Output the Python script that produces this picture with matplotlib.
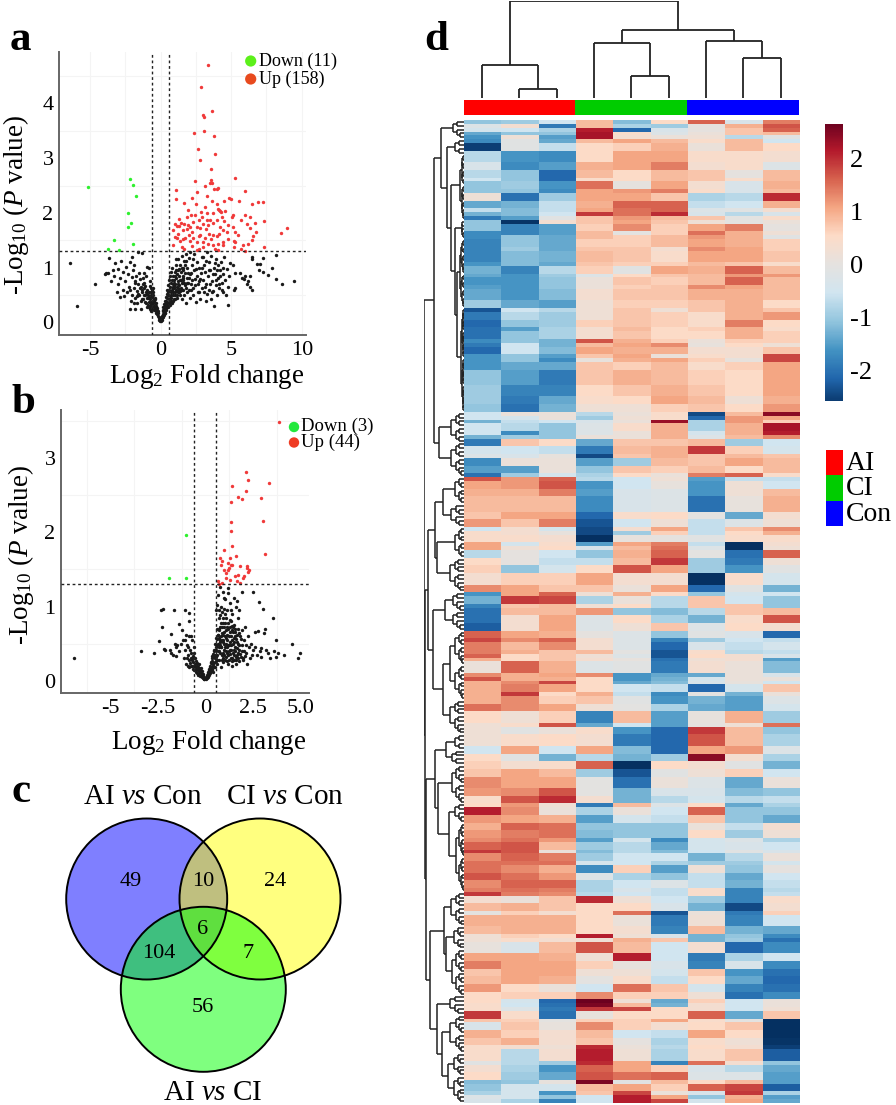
import numpy as np
import matplotlib
matplotlib.use("Agg")
import matplotlib.pyplot as plt
from matplotlib.collections import LineCollection
from matplotlib.colors import LinearSegmentedColormap
from matplotlib.patches import Circle, Rectangle

plt.rcParams.update({
    "font.family": ["Liberation Serif", "DejaVu Serif"],
    "mathtext.fontset": "custom",
    "mathtext.rm": "Liberation Serif",
    "mathtext.it": "Liberation Serif:italic",
    "mathtext.bf": "Liberation Serif:bold",
    "mathtext.default": "rm",
    "axes.unicode_minus": False,
})

# ---------- panel a ----------
a_up = [(3.38,4.71),(2.88,4.30),(3.62,3.87),(3.00,3.78),(3.07,3.76),(3.10,3.49),(2.34,3.46),(3.81,3.41),(2.65,3.17),(3.85,3.07),
(2.81,2.97),(3.55,2.81),(5.30,2.64),(2.41,2.59),(3.59,2.60),(3.50,2.55),(3.64,2.54),(3.17,2.50),(4.09,2.45),(3.81,2.44),
(3.97,2.43),(1.09,2.41),(5.96,2.40),(2.60,2.38),(3.31,2.31),(2.20,2.28),(1.09,2.25),(3.62,2.22),(4.87,2.28),(4.96,2.26),
(4.52,2.22),(5.56,2.22),(6.93,2.20),(6.50,2.17),(7.23,2.20),(2.48,2.16),(1.68,2.18),(4.00,2.16),(4.04,2.08),(4.21,2.04),
(4.14,2.05),(4.30,2.02),(4.56,2.04),(1.96,2.05),(2.86,2.02),(3.26,1.99),(2.46,1.96),(5.15,1.96),(5.04,1.93),(5.98,1.96),
(6.34,1.92),(5.67,1.88),(7.33,1.85),(1.32,1.89),(1.84,1.93),(2.13,1.96),(2.91,1.93),(3.50,1.87),(3.97,1.87),(4.49,1.86),
(1.02,1.80),(1.32,1.76),(1.68,1.80),(1.96,1.78),(2.08,1.74),(2.55,1.74),(3.03,1.80),(3.38,1.78),(3.74,1.81),(4.44,1.69),
(5.15,1.75),(6.10,1.80),(6.69,1.81),(8.98,1.73),(8.51,1.64),(0.90,1.68),(1.13,1.76),(2.79,1.72),(4.21,1.75),(4.68,1.66),
(5.27,1.66),(6.34,1.72),(6.76,1.66),(6.57,1.58),(1.02,1.56),(1.13,1.54),(1.56,1.53),(1.73,1.55),(1.37,1.49),(2.03,1.59),
(2.32,1.55),(2.79,1.60),(3.45,1.61),(3.74,1.60),(4.44,1.47),(5.22,1.49),(6.45,1.50),(5.25,1.46),(5.86,1.41),(6.22,1.44),
(7.33,1.38),(0.90,1.42),(1.49,1.37),(1.65,1.35),(2.20,1.39),(2.55,1.46),(2.98,1.47),(3.38,1.44),(3.69,1.41),(4.09,1.43),
(4.40,1.41),(5.22,1.37),(5.67,1.35),(5.98,1.31),(2.55,1.32),(3.03,1.38),(4.09,1.32),(3.85,1.35),(1.20,1.62),(1.85,1.70),
(2.25,1.66),(2.70,1.58),(3.20,1.70),(3.60,1.52),(4.00,1.58),(4.80,1.52),(5.50,1.60),(2.10,1.48),(2.75,1.35),(3.15,1.54),
(3.30,1.88),(2.70,1.88),(4.15,1.62),(4.75,1.78),(1.55,1.68),(1.45,1.82),(2.30,1.84),(3.12,2.10),(3.72,2.00),(4.35,1.92)]
a_down = [(-5.13,2.47),(-2.15,2.62),(-1.94,2.51),(-1.77,2.31),(-2.32,2.00),(-2.08,1.81),(-2.34,1.75),(-3.29,1.50),(-1.99,1.44),(-3.71,1.34),(-2.93,1.33)]
a_ns = [(-6.45,1.08),(-5.93,.30),(-4.66,.70),(-3.95,.89),(-3.85,.90),(-3.71,.91),(-3.64,1.18),(9.48,.75),(8.6,.71),(8.2,1.23),(7.92,1.0),(8.18,.8),(7.64,.86),(7.28,.93),(7.23,1.18),(6.5,1.2),(6.45,1.15),(6.85,1.07),(7.02,1.07),(7.0,.95),
(-.05,.03),(-.1,.05),(-.12,.1),(-.15,.08),(-.2,.12),(-.2,.18),(-.25,.15),(-.25,.22),(-.3,.2),(-.3,.28),(-.35,.18),(-.35,.3),(-.4,.25),(-.4,.35),(-.45,.3),(-.45,.4),(-.5,.28),(-.5,.42),(-.55,.35),(-.55,.5),
(-.6,.3),(-.6,.46),(-.65,.38),(-.65,.55),(-.7,.33),(-.7,.5),(-.75,.42),(-.8,.55),(-.85,.37),(-.9,.5),(-.95,.6),(-1,.45),(-1.05,.55),(-1.1,.38),(-1.15,.62),(-1.2,.5),(-1.25,.7),(-1.3,.43),(-1.3,.6),(-1.35,.55),
(-1.4,.65),(-1.45,.8),(-1.5,.5),(-1.55,.9),(-1.6,.7),(-1.65,.35),(-1.7,.58),(-1.75,.85),(-1.8,.45),(-1.85,.75),(-1.9,.62),(-1.95,.95),(-2,.5),(-2.05,.83),(-2.1,.4),(-2.2,1.1),(-2.25,.65),(-2.3,.88),(-2.4,.55),(-2.45,1.02),
(-2.5,.75),(-2.6,.48),(-2.65,.93),(-2.7,.6),(-2.8,1.13),(-2.85,.82),(-2.9,.47),(-3,.98),(-3.05,.7),(-3.1,.55),(-3.2,1.08),(-3.3,.85),(-3.35,.95),(-3.5,.75),(-1.8,.25),(-2.2,.25),(-1.4,.25),(-1.0,.28),(-1.3,1.27),(-1.6,1.28),
(-2,1.2),(-1.9,1.05),(-.95,1.01),(-.85,.99),(-1.2,.9),(-1.05,.85),(-.75,.75),(-.55,.62),(-.78,.3),(-.88,.45),(-.92,.32),(-1.02,.36),(-1.12,.5),(-1.22,.42),(-.65,.2),(-.72,.25),(-.82,.28),(-.48,.22),(-.58,.25),(-.38,.42),
(.05,.03),(.08,.08),(.1,.12),(.12,.05),(.15,.15),(.18,.1),(.2,.2),(.22,.14),(.25,.25),(.28,.18),(.3,.3),(.32,.22),(.35,.35),(.38,.26),(.4,.4),(.42,.3),(.45,.45),(.48,.35),(.5,.5),(.52,.28),
(.55,.55),(.58,.38),(.6,.6),(.62,.42),(.65,.65),(.68,.32),(.7,.5),(.72,.72),(.75,.45),(.78,.6),(.8,.78),(.82,.35),(.85,.55),(.88,.7),(.9,.85),(.92,.42),(.95,.62),(.98,.78),(1,.92),(1.02,.5),
(1.05,.7),(1.08,.58),(1.1,1.05),(1.12,.82),(1.15,.65),(1.18,.45),(1.2,.75),(1.22,.95),(1.25,1.15),(1.28,.55),(1.3,.85),(1.32,.68),(1.35,1.05),(1.38,.78),(1.4,.5),(1.42,.62),(1.45,.92),(1.48,1.22),(1.5,.72),(1.52,.42),
(1.55,.85),(1.58,1.0),(1.6,.6),(1.62,.78),(1.65,1.12),(1.68,.5),(1.7,.9),(1.75,.68),(1.78,.35),(1.8,1.25),(1.85,.82),(1.88,1.0),(1.9,.55),(1.95,.72),(2,1.18),(2.05,.45),(2.1,.88),(2.15,.6),(2.2,1.05),(2.25,.78),
(2.3,.5),(2.35,.95),(2.4,1.25),(2.45,.68),(2.5,.38),(2.55,.85),(2.6,1.1),(2.65,.55),(2.7,.75),(2.75,1.0),(2.8,.42),(2.85,.9),(2.9,1.2),(2.95,.62),(3,.78),(3.05,.55),(3.1,1.05),(3.15,.92),(3.2,.4),(3.25,.7),
(3.3,1.28),(3.35,.85),(3.4,1.1),(3.45,.6),(3.5,.95),(3.55,.42),(3.6,1.22),(3.65,.75),(3.7,.58),(3.75,1.0),(3.8,.3),(3.85,.88),(3.9,1.15),(3.95,.68),(4,.5),(4.05,1.05),(4.1,.82),(4.15,.62),(4.2,.95),(4.3,1.1),
(4.35,.72),(4.4,.55),(4.45,.88),(4.5,1.2),(4.55,.78),(4.6,.5),(4.7,.98),(4.75,.65),(4.8,.32),(4.85,.85),(4.9,1.08),(5.3,.62),(5.2,.6),(5.25,.9),(5.6,.9),(5.8,.82),(5.9,.8),(6,.85),(6.1,.7),(6.2,.75),
(6.3,.65),(6.5,.6),(6.35,.85),(5.1,1.05),(.3,.18),(.35,.22),(.45,.28),(.55,.3),(.6,.35),(.7,.38),(.75,.4),(.85,.4),(.9,.5),(1,.55),(1.05,.42),(1.1,.6),(1.15,.5),(1.2,.55),(1.25,.7),(1.3,.6),(.95,.72),(.85,.65),(.75,.55),(.65,.48),
(-.18,.2),(-.28,.26),(-.33,.36),(-.42,.44),(-.52,.56),(-.62,.6),(-.7,.62),(-.78,.66),(-.82,.47),(-.98,.52),(-1.08,.66),(-1.18,.72),(-1.28,.82),(-1.38,.4),(-1.48,.62),(-1.58,.52),(-1.68,.48),(-1.78,.72),(-1.88,.35),(-2.15,.6),
(.15,.22),(.2,.28),(.25,.34),(.3,.4),(.35,.46),(.42,.52),(.48,.6),(.55,.68),(.62,.78),(.68,.85),(.75,.92),(.82,1.0),(.9,.62),(.98,.66),(1.02,.85),(1.08,.95),(1.12,1.15),(1.18,.88),(1.22,.62),(1.28,.98),
(1.35,.58),(1.42,.78),(1.48,1.0),(1.52,.6),(1.58,.82),(1.62,.95),(1.68,.72),(1.72,1.05),(1.78,.62),(1.82,1.12),(1.88,.72),(1.92,.9),(1.98,.6),(2.02,.82),(2.08,1.28),(2.12,.7),(2.18,.9),(2.28,.62),(2.32,1.15),(2.42,.8),
(2.52,.98),(2.62,.7),(2.72,.55),(2.82,.8),(2.92,1.0),(3.02,1.2),(3.12,.65),(3.22,1.12),(3.32,.52),(3.42,.95),(3.52,.7),(3.62,.55),(3.72,.88),(3.82,1.08),(3.92,.78),(4.02,.95),(4.12,.7),(4.22,.85),(4.32,.6),(4.42,1.0)]

# ---------- panel b ----------
b_up = [(3.89,3.49),(2.11,2.82),(2.26,2.71),(3.35,2.67),(1.39,2.63),(2.16,2.56),(1.72,2.48),(1.95,2.45),(2.95,2.46),(1.37,2.41),(3.04,2.16),(1.32,2.14),(1.37,2.02),(1.39,1.81),(1.0,1.76),(3.16,1.71),(1.61,1.68),(.79,1.65),(.88,1.62),(1.3,1.65),
(1.19,1.59),(.82,1.56),(1.32,1.56),(1.4,1.56),(1.84,1.55),(2.18,1.55),(2.21,1.52),(2.3,1.49),(2.25,1.46),(.96,1.49),(1.19,1.49),(1.09,1.45),(1.54,1.41),(1.72,1.43),(2.02,1.41),(1.96,1.39),(1.28,1.36),(1.09,1.38),(.67,1.34),(.88,1.32),
(1.68,1.34),(1.81,1.32),(.72,1.31),(1.25,1.52)]
b_down = [(-1.0,1.96),(-1.91,1.38),(-1.0,1.38)]
b_ns = [(-6.9,.3),(-3.39,.4),(-2.72,.38),(-2.42,.54),(-2.26,.73),(-2.32,.95),(-2.21,.97),(-1.63,.95),(-1.1,.95),(-.84,.91),(-1.79,.63),(-1.37,.76),(-.84,.81),(-2.2,.43),(-2.15,.42),(-1.85,.42),(-1.8,.38),(-1.7,.35),(-1.55,.33),(-1.5,.48),
(-1.4,.4),(-1.3,.5),(-1.2,.55),(-1.15,.3),(-1.05,.42),(-1.0,.62),(-.95,.48),(-.9,.35),(-.85,.6),(-.8,.42),(-.75,.3),(-.72,.55),(-.7,.2),(-.65,.25),(-.62,.38),(-.6,.15),(-.58,.3),(-.55,.22),(-.52,.12),(-.5,.18),
(-.48,.26),(-.45,.1),(-.42,.2),(-.4,.14),(-.38,.08),(-.35,.17),(-.32,.11),(-.3,.07),(-.28,.13),(-.25,.06),(-.22,.1),(-.2,.05),(-.18,.08),(-.15,.04),(-.12,.06),(-.1,.03),(-.07,.02),(-.05,.02),(-.68,.33),(-.92,.2),
(-.78,.2),(-.88,.28),(-1.05,.55),(-1.25,.68),(-1.6,.5),(-1.55,.45),(-.6,.45),(-.75,.6),
(.03,.02),(.05,.04),(.07,.03),(.1,.08),(.12,.05),(.15,.12),(.18,.08),(.2,.16),(.22,.1),(.25,.2),(.28,.13),(.3,.25),(.32,.16),(.35,.3),(.38,.2),(.4,.36),(.42,.12),(.45,.42),(.48,.25),(.5,.5),
(.52,.18),(.55,.32),(.58,.58),(.6,.7),(.62,.22),(.65,.4),(.68,.62),(.7,.85),(.72,.28),(.75,.48),(.78,.72),(.8,1.0),(.82,.18),(.85,.35),(.88,.55),(.9,.78),(.92,1.2),(.95,.25),(.98,.42),(1.0,.66),
(1.02,.9),(1.05,1.1),(1.08,.32),(1.1,.5),(1.12,.72),(1.15,.95),(1.18,1.25),(1.2,.22),(1.22,.4),(1.25,.6),(1.28,.82),(1.3,1.05),(1.32,.3),(1.35,.48),(1.38,.68),(1.4,.9),(1.42,.2),(1.45,.38),(1.48,.58),(1.5,.75),
(1.52,.28),(1.55,.45),(1.58,.65),(1.6,1.0),(1.62,.22),(1.65,.35),(1.68,.52),(1.7,.7),(1.72,.85),(1.75,.26),(1.78,.42),(1.8,.6),(1.85,.32),(1.9,.48),(1.95,.68),(2.0,.28),(2.02,.4),(2.05,.55),(2.1,.72),(2.15,.38),
(2.2,.22),(2.25,.6),(2.3,.45),(2.35,.3),(2.4,.5),(2.45,.35),(2.49,1.2),(2.5,.42),(2.6,.66),(2.63,.45),(2.7,.35),(2.75,.67),(2.82,1.06),(2.85,.4),(2.9,.32),(2.95,.44),(3.04,.97),(3.09,.64),(3.12,.7),(3.2,.42),
(3.42,.3),(3.3,.38),(3.54,.85),(3.6,.4),(3.72,.32),(3.72,.55),(3.8,.38),(4.12,.34),(4.56,.49),(4.86,.3),(4.96,.38),(.55,.95),(.6,1.02),(.65,1.15),(.7,.95),(.75,1.27),(.72,.7),(.78,.88),(.8,.6),(.85,.72),
(.9,.62),(.95,.85),(1.0,.5),(1.0,1.12),(1.05,.78),(1.1,.58),(1.15,.38),(1.2,.7),(1.25,.48),(1.3,.65),(1.35,.8),(1.4,.55),(1.45,.72),(1.5,.42),(1.55,.6),(1.6,.32),(1.2,1.18),(1.35,.95),(1.5,1.12),(1.65,1.08),
(1.75,.95),(1.9,1.2),(.35,.15),(.4,.22),(.45,.18),(.5,.3),(.55,.42),(.6,.28),(.65,.5),(.7,.4),(.75,.55),(.8,.45),(.85,.28),(.9,.38),(.95,.55),(1.0,.35),(1.05,.6),(1.1,.4),(1.15,.55),(1.2,.35),(1.3,.42),(1.4,.3),
(-.08,.05),(-.14,.09),(-.2,.13),(-.24,.17),(-.3,.14),(-.34,.22),(-.38,.18),(-.44,.24),(-.48,.16),(-.54,.3),(-.58,.2),(-.64,.32),(-.68,.16),(-.72,.28),(-.76,.38),(-.82,.24),(-.86,.18),(-.9,.45),(-.96,.3),(-1.02,.22),
(.08,.06),(.13,.1),(.17,.14),(.21,.12),(.24,.18),(.27,.24),(.31,.18),(.34,.27),(.37,.33),(.41,.24),(.44,.32),(.47,.4),(.51,.34),(.54,.46),(.57,.26),(.59,.48),(.61,.56),(.63,.34),(.66,.62),(.69,.46),
(.71,.58),(.74,.68),(.77,.38),(.79,.52),(.81,.78),(.84,.46),(.87,.64),(.89,.92),(.91,.3),(.93,.52),(.96,.72),(.99,.96),(1.01,.28),(1.03,.46),(1.06,.68),(1.09,.84),(1.11,.26),(1.13,.46),(1.16,.62),(1.19,.78),
(1.21,.48),(1.24,.28),(1.27,.72),(1.29,.52),(1.31,.36),(1.34,.6),(1.37,.42),(1.39,.74),(1.41,.26),(1.44,.5),(1.47,.66),(1.49,.34),(1.51,.52),(1.54,.7),(1.57,.4),(1.59,.56),(1.61,.28),(1.64,.44),(1.66,.62),(1.69,.38),
(1.71,.5),(1.74,.3),(1.76,.64),(1.79,.48),(1.82,.36),(1.87,.56),(1.92,.4),(1.97,.3),(2.07,.33),(2.12,.48)]

# ---------- panel c ----------
venn_sets = ["AI vs Con", "CI vs Con", "AI vs CI"]
venn_only_ai_con, venn_only_ci_con, venn_only_ai_ci = 49, 24, 56
venn_ai_ci_con, venn_ai_and_aici, venn_ci_and_aici, venn_all = 10, 104, 7, 6

# ---------- panel d ----------
heat_groups = ["AI", "CI", "Con"]
heat_blocks = [
(1,-1.0,-.9,-.5,.8,-1.1,.5,1.5,-.3,1.3),(1,-.2,.3,-1.8,.8,-.8,-.9,0,.9,1.6),(1,-.4,-.5,-.8,2.0,-2.0,-.3,0,.7,1.5),(1,-1.3,-1.0,-1.0,2.1,.4,-.2,.1,.7,.8),
(1,-1.5,.2,-1.4,2.1,.3,.1,.2,-.7,-.1),(1,-1.6,-.1,-1.3,.8,1.0,.8,.4,.8,-.5),(2,-2.4,-.1,-.6,.5,.6,.9,.1,.8,.5),(3,-.7,-1.5,-1.6,.5,1.0,1.0,.4,.4,.3),
(2,-.3,-1.6,-1.4,.9,1.0,1.3,.3,.4,-.2),(2,-.7,-1.0,-2.0,.8,.5,.8,.7,0,.8),(1,-.5,-1.0,-2.0,.4,.5,.8,.7,.4,.8),(2,-1.0,-.9,-1.5,1.4,0,1.0,.3,-.3,.9),
(1,-1.0,-1.0,-1.6,1.0,1.1,1.3,.4,-.3,.8),(2,.2,-1.9,-.9,1.0,1.0,.7,-.8,-.7,1.9),(2,-1.3,-1.2,-.6,.9,1.5,1.5,-.6,-.5,.9),(1,-.6,-1.1,-.6,1,1.4,1.5,-.2,-.1,.3),
(1,-1.2,-1.1,-.5,1.8,1.4,1.9,-.3,-.7,-.3),(1,-1.8,-1.4,-.1,.7,1.1,.8,.7,-.05,.4),(1,-1,-2.5,.3,.7,1.0,.7,.2,-.05,.1),(2,-1,-1.7,-1.4,.6,1.2,.6,1.0,1.3,0),
(1,-1.6,-1.7,-1.4,.8,-.05,.6,1.4,.9,.2),(1,-1.6,-1,-1.3,.8,.6,.8,1.1,.9,-.1),(2,-1.7,-1,-1.3,.6,.6,.8,1,.9,.6),(1,-1.7,-.9,-1.3,.7,.7,.3,1.2,1,.6),
(3,-1.7,-1.1,-1.2,.8,.7,.4,1.0,1.0,.7),(1,-1.5,-1.1,-1.3,.7,.6,.6,.8,.7,.4),(2,-1.2,-1.7,-.7,.6,-.1,1.0,.9,1.5,.8),(1,-1.3,-1.5,-.9,-.2,.5,.7,.8,1.1,1.1),
(2,-1.5,-1.5,-1,.1,.7,.6,.8,1.5,.8),(1,-1.4,-1.5,-1,.1,.6,.7,1.2,1,.8),(3,-1.3,-1.5,-1.1,.3,.7,.7,.9,.9,.8),
(2,-.9,-1.3,-1.4,.2,.6,.6,.7,.9,.5),(1,-2.2,-.5,-.7,.2,.7,.2,.7,.9,.7),(2,-1.8,-.7,-.9,.2,.7,.6,.4,.9,1.1),(2,-2,-1,-.9,.6,.7,.6,.4,1.3,.5),
(1,-1.9,-1.4,-.8,.3,.8,.5,.6,.9,.4),(2,-1.9,-1,-.8,.3,.7,.5,.5,.9,.6),(1,-1.6,-1,-1.2,1.6,.9,.6,.1,.6,.6),(1,-1.8,-.5,-1.2,.8,1,1.2,.05,.5,.2),
(2,-2,-.5,-1.1,1,.9,.9,.3,.3,.7),(1,-1.5,-1,-1.4,.7,1,.1,.4,.3,1.7),(1,-1.5,-1,-1.6,.05,.9,1,.6,.05,1.7),(2,-1.5,-1.3,-1.3,.7,.6,.8,.4,.6,1),
(4,-1,-1.4,-1.8,.7,.9,.8,.6,.5,1),(3,-.9,-1.7,-1.7,.5,.7,.9,.7,.5,1),(2,-.9,-1.8,-1.3,.4,.5,1,.8,.2,.9),(2,-1,-1.9,-1.2,.2,.2,.6,.7,.5,1.1),
(1,-.5,.1,.1,-.7,.1,.4,-2.3,.8,2.3),(1,-.5,-.4,.1,-.9,.2,.4,-2,1.1,1),(1,-1.2,-.6,-.5,-.3,.1,2.2,-.8,1.1,.6),(2,-.5,-.7,-1,-.2,.4,.9,-.8,.9,2.1),
(1,-.5,-1.6,-1,-.2,.1,.9,-.4,.9,2.0),(1,-1.2,-.9,-1,.1,.1,.9,-.2,.8,1.2),(2,-1.8,.7,.5,-1.3,.7,.7,.8,-.9,-.5),(2,-.4,-.5,-.6,-1.8,.8,.9,1.8,.6,-.4),
(1,-.2,-.3,.05,-2.3,.7,.9,.7,.8,.7),(2,-1.6,.1,.1,-1.4,-.9,.8,.7,1.0,.8),(2,-1.4,-1.4,.1,-1,.7,.6,.8,.5,.8),(1,-1.9,-.9,-.4,-.8,.5,.1,1.3,1.5,.4),
(1,1.6,1.1,1.5,-.7,-.5,.2,-1.4,-.6,-.6),(2,1,1.1,1.6,-1.5,-.5,.05,-1.5,.2,-.5),(2,.9,.9,1.3,-1.4,-.3,-.2,-1.5,.2,.8),(4,.8,.8,.8,-1.6,-.3,-.2,-1.9,.05,.9),
(2,.7,1,1,-2,.4,.5,-.05,-1.3,.3),(2,1.1,.7,1.3,-2.2,-.5,.2,-.6,-.2,.2),(1,-.5,.3,-.4,-2.3,.3,1,-.6,.7,1.2),(1,.4,.3,.05,-2.3,-.9,.6,-.6,.5,.9),
(2,.4,.4,.3,-2.9,.05,0,-.1,.4,.4),(1,1,-.4,.4,-1.4,1,1.3,-.6,-2.6,.3),(1,1,.2,.5,-.3,.8,1.4,-.2,-2.6,.2),(2,-.7,0,-.5,-1.0,.9,1.5,-.05,-1.9,1.5),
(2,.5,0,-.6,-.6,.8,1.8,-.9,-1.8,.2),(2,.6,-1,-.4,.5,1.6,1,-.9,-1.5,-.1),(3,.3,.6,.6,1,.3,.3,-2.6,.4,-.4),(2,1.2,1,.7,.7,.1,1,-2,-.1,-1.2),
(1,-1.5,1,1.5,.2,.9,.5,-1,-.4,-.5),(2,-1.2,1.8,1.7,-.8,.1,-.7,.7,-.5,-1),(1,-1.7,.7,.8,.2,.5,-.7,.7,.7,-1),(2,-1.9,.8,.8,1.1,-1,-1.1,-.7,.7,.8),
(2,-1.9,.3,1,-.2,.5,-.8,-1.2,.4,1.6),(2,-2.1,.3,1,-.2,.2,.7,-.2,.5,.3),(2,1.5,1,.9,0,-.2,-1,-.1,-.3,-2),(1,1.7,1.2,1.5,.3,-.2,-1.7,-.9,-.5,-.6),
(2,1.3,.8,1.2,.3,-.2,-2,-.3,-.6,-.4),(1,1.3,.9,.7,.8,-.05,-2.2,.4,-.7,-.6),(1,1.5,.5,.7,.2,-.2,-2.2,.5,.3,-.3),(1,.9,.5,.7,.3,.05,-1.9,.2,.3,-1.4),
(3,.1,1.5,.9,-.2,-.1,-1.8,.3,.1,-1.1),(1,1.2,.9,1,1.2,-1.5,-1.3,-1.3,.1,-.3),(1,1.6,.9,.9,.5,-1.5,-1.2,-.4,.1,.1),(1,.9,1.2,1.7,.5,-1.3,-1.1,-.3,.05,-.5),
(2,.9,1.3,1,.5,-.5,-.6,-2,-.4,.7),(1,.9,1.8,.5,.9,-.6,-1.6,-.05,-1.2,.1),(2,.9,1.2,.6,.7,-.1,-1.5,-1.2,-1.4,-.2),(2,1.4,1.2,1,.2,-.05,-.8,-1.3,-1.4,-.4),
(3,.5,.2,.6,-1.7,.8,-1.4,.05,.9,-.9),(1,.2,.4,1.6,-1.3,-.5,-1.4,0,.2,1.4),(2,.2,-.1,.1,.4,-1.5,-2.0,1.8,.8,-1),(3,.2,.4,.5,.3,-1.8,-2,1.6,.8,-.8),
(2,-.5,1,-.5,1,-1.1,-2,1,1.1,-.2),(2,.5,-.1,-1.2,-.7,-1.2,-.9,2.3,.3,-.8),(2,.6,.3,.4,1.5,-2.8,.5,.3,-.1,-1.2),(2,.7,1,.8,-.9,-2.2,-.1,.2,.6,-.5),
(3,1.2,1,1,-.05,-1.9,.1,-.2,-1.3,.1),(2,1.1,1.2,1.6,-.05,-1.2,-.3,-.3,-1.1,-1),(2,.4,1.6,1.9,.3,-1.2,-.7,-.4,-.7,-.6),(1,.5,1.1,.2,-1.8,.8,-.2,.5,-1.3,-.8),
(2,2,1.2,.1,-.8,.1,-.5,1.5,-1,-1),(2,1.1,1,.9,-1.4,-.4,-.6,.7,-1,-1.3),(2,.9,1.5,1.4,-1,-1,-1,.1,-.6,.3),
(2,1.1,1.3,1.4,-1.1,-1,-1,.5,-.9,.2),(1,1.2,1.4,1.1,-1.4,-.4,-1.6,-.4,-.2,-.8),(2,1.5,1.6,.8,-.9,-.7,-1.3,-.4,-.3,-.5),(1,1.8,1.6,.1,-1.1,-.7,-1.1,-.5,-.1,-.3),
(2,1.2,1.5,1.3,-.9,-.5,-.5,-1.2,-.7,.1),(1,1.4,1.4,1.4,-.4,-.5,-.8,-.9,-.9,-.4),(2,1.4,1.2,.9,-1.6,.6,-1.4,.2,-1,0),(2,1.6,1.4,1.1,-.2,-.8,-1,-.6,-1.3,-.5),
(2,1.2,1.5,1.5,-.8,-.5,-.2,-.6,-1.2,-.6),(1,1.3,1.4,1.3,-.8,-.3,-.6,.4,-1.7,-.7),(1,1.8,1.3,1.2,-.7,-.5,-.6,.4,-1.7,-.6),(2,.3,.1,.7,1.9,.2,-.5,-.9,-1.7,.4),
(2,.8,.9,.7,.5,.5,-.3,-1.2,-2.3,.3),(1,-.05,.6,.3,.5,1.4,-2.2,.1,-1.8,.6),(3,.9,.9,.9,.5,.1,-1.8,.2,-1.7,-.5),(2,.8,.9,.9,.5,.3,-1.7,.8,-1.2,-1.3),
(1,.2,.6,.5,2,.2,-.3,-1.2,-1,-1.6),(1,.2,.4,.3,.2,.9,.7,-1.2,-.9,-1.9),(3,.05,-.3,.8,1.6,.8,-.5,.3,-2,-1.6),(2,1,1,.9,.2,2,-.5,-1.8,-.8,-.5),
(2,1.3,1,1,.6,.05,-.3,-1.7,-.3,-1.6),(2,.7,1,1,.2,.2,-.4,.7,-1.5,-1.9),(2,.8,1,.9,-.05,.4,-.6,.5,-1.3,-2),(2,1.1,.5,.1,-.5,1.4,.7,-.4,-1.7,-1.9),
(2,.5,.6,.6,1.2,.6,.6,.2,-1.9,-1.6),(1,.5,-.4,-2,2.5,.2,-1.3,.6,-.5,.1),(1,.4,-.5,-1.9,2.4,.8,-1.2,.3,-.5,.1),(1,.4,-.2,-1.8,1.8,1.7,.5,.3,-.5,.2),
(2,1.8,.4,-1.9,.05,.5,.5,1.5,-1.3,.7),(1,.7,.6,-.05,.6,.6,1.0,.4,-.05,-2.6),(2,-.3,.7,.05,1.2,.6,.3,.5,.7,-2.7),(2,.9,.6,.3,.8,-.5,-.6,1,.5,-2.6),
(2,.7,.9,.3,.7,0,-.8,.4,.2,-2.5),(1,.4,.3,.2,1.9,.1,-.7,.5,.3,-2.4),(3,.4,-.7,.3,2,.2,-.8,.4,.7,-2.1),(1,-.1,-.7,-.9,1.9,1,-1.7,1.4,.3,-1),
(2,.3,-.8,-1.5,1.5,1,.6,-.3,-.7,-1.3),(2,.5,-.9,-1.3,1.6,1.4,1.5,-.2,-.2,-1.4),(1,-1.1,-1,.05,2.4,-.1,.8,.5,.8,-1.4),(2,-1,-.4,-.4,.8,1,.6,1.5,1.7,-2.1),
(1,-.8,-.4,-1.5,.7,1.7,.1,-.3,1.8,-.8),(1,-.2,-.4,-1,-.5,2,1.0,-1,.9,-1.4),(1,-.3,-.8,-1.7,-.5,2,1.7,-.4,1.0,-1.3),
]

# column dendrogram: (merge height, child, child); integers are columns
col_tree = (97.0, (33.3, 0, (9.3, 1, 2)),
            (68.3, (55.7, 3, (22.3, 4, 5)), (57.3, 6, (40.7, 7, 8))))
# row dendrogram: (merge height, child, child); 2-tuples are (rows, height)
row_tree = (39.3,
  (30, (22.7, (5, 11), (16.7, (4, 8.3), (12.7, (17, 3.3), (9, (5, 1.7), (6.7, (18, 4), (27, 2.3)))))),
       (25, (8, 12.3), (9, 12.3))),
  (38.3,
   (36, (29, (20.7, (7, 8.3), (6, 12.7)), (26.7, (8, 8.3), (9, 14))),
        (30.7, (18.3, (5, 10.7), (5, 10.7)), (20.7, (13.3, (9, 8.3), (9, 8.3)), (9, 14)))),
   (37.3, (28.3, (17.3, (4, 8.3), (4, 11.7)), (26, (10, 11.7), (15, (5, 8.3), (18, 7.3)))),
          (34, (20, (9, 12.7), (17.3, (6, 10), (12, 11.7))), (26.7, (5, 14), (21.7, (10, 13.3), (13, 16)))))))

W, H = 896, 1105
fig = plt.figure(figsize=(W / 100, H / 100), dpi=100)

def ax_px(l, t, r, b, **kw):
    return fig.add_axes([l / W, 1 - b / H, (r - l) / W, (b - t) / H], **kw)

def txt(x, y, s, **kw):
    fig.text(x / W, 1 - y / H, s, **kw)

GREEN = "#2ef02e"
RED = "#f03a3a"

def volcano(rect, xlim, ylim, xticks, xlabels, yticks, ns, up, down, vx, grid_x, grid_y):
    ax = ax_px(*rect)
    for v in grid_x:
        ax.axvline(v, color="#f4f4f4", lw=0.8, zorder=0)
    for v in grid_y:
        ax.axhline(v, color="#f4f4f4", lw=0.8, zorder=0)
    for pts, c in ((ns, "#1a1a1a"), (up, RED), (down, GREEN)):
        arr = np.array(pts)
        ax.scatter(arr[:, 0], arr[:, 1], s=6, c=c, lw=0, zorder=2)
    for v in vx:
        ax.axvline(v, color="#222222", lw=1.0, dashes=(2, 2), zorder=3)
    ax.axhline(1.3, color="#222222", lw=1.0, dashes=(2, 2), zorder=3)
    ax.set_xlim(*xlim)
    ax.set_ylim(*ylim)
    ax.set_xticks(xticks, xlabels)
    ax.set_yticks(yticks, [str(v) for v in yticks])
    ax.tick_params(length=0, labelsize=16, pad=4)
    for s in ("top", "right"):
        ax.spines[s].set_visible(False)
    for s in ("left", "bottom"):
        ax.spines[s].set_color("#666666")
        ax.spines[s].set_linewidth(1.4)
    return ax

LOGP = "-Log$_{10}$ ($\\mathit{P}$ value)"
LOGF = "Log$_{2}$ Fold change"

volcano((59, 52, 306, 335), (-7.2, 10.3), (-0.23, 4.94), [-5, 0, 5, 10], ["-5", "0", "5", "10"], [0, 1, 2, 3, 4],
        a_ns, a_up, a_down, (-0.59, 0.59), (-5, -2.5, 0, 2.5, 5, 7.5, 10), (.5, 1.5, 2.5, 3.5, 4.5))
txt(207, 383, LOGF, fontsize=19.5, ha="center", va="baseline")
txt(16, 205, LOGP, fontsize=19.5, ha="center", va="center", rotation=90)

volcano((61, 410, 309, 693.3), (-7.6, 5.45), (-0.17, 3.65), [-5, -2.5, 0, 2.5, 5], ["-5", "-2.5", "0", "2.5", "5.0"], [0, 1, 2, 3],
        b_ns, b_up, b_down, (-0.6, 0.56), (-6.25, -3.75, -1.25, 1.25, 3.75), (.5, 1.5, 2.5, 3.5))
txt(209, 749, LOGF, fontsize=19.5, ha="center", va="baseline")
txt(21, 555, LOGP, fontsize=19.5, ha="center", va="center", rotation=90)

# overlay in pixel coordinates for legend dots and the Venn diagram
ov = ax_px(0, 0, W, H)
ov.set_xlim(0, W)
ov.set_ylim(H, 0)
ov.axis("off")
ov.set_zorder(5)
ov.patch.set_alpha(0)
for (cx, cy, r, c) in ((250.7, 61, 5.6, "#5cf01a"), (250.7, 79, 5.6, "#e84a1e"),
                       (294, 427, 5.2, "#22e83c"), (294, 442.5, 5.2, "#ef3c24")):
    ov.add_patch(Circle((cx, cy), r, fc=c, ec="none"))
txt(259, 66, "Down (%d)" % len(a_down), fontsize=13, va="baseline")
txt(259, 84, "Up (%d)" % 158, fontsize=13, va="baseline")
txt(301, 431, "Down (%d)" % len(b_down), fontsize=13.5, va="baseline")
txt(301, 447, "Up (%d)" % len(b_up), fontsize=13.5, va="baseline")

venn = ((146.7, 899, 80.5, "blue"), (260, 899, 80.5, "yellow"), (203.3, 989.3, 82.5, "lime"))
for cx, cy, r, c in venn:
    ov.add_patch(Circle((cx, cy), r, fc=c, ec="none", alpha=0.5))
for cx, cy, r, c in venn:
    ov.add_patch(Circle((cx, cy), r, fc="none", ec="black", lw=1.4))
for x, y, v in ((131, 882, venn_only_ai_con), (203.5, 882, venn_ai_ci_con), (275, 882, venn_only_ci_con),
                (203, 929, venn_all), (159, 953, venn_ai_and_aici), (248, 953, venn_ci_and_aici),
                (203, 1007, venn_only_ai_ci)):
    ov.text(x, y, str(v), fontsize=16, ha="center", va="center")
for (x, y), s in zip(((143, 804), (285, 804), (213, 1100)), venn_sets):
    a, b = s.split(" vs ")
    txt(x, y, a + " $\\mathit{vs}$ " + b, fontsize=21, ha="center", va="baseline")

for x, y, s in ((10, 50, "a"), (12, 413, "b"), (11, 802, "c"), (424, 50, "d")):
    txt(x, y, s, fontsize=31, fontweight="bold", va="baseline")

# heatmap
cmap = LinearSegmentedColormap.from_list("rdbu", ["#053061", "#2166ac", "#4393c3", "#92c5de", "#d1e5f0", "#e5e2df",
                                                  "#fddbc7", "#f4a582", "#d6604d", "#b2182b", "#67001f"])
VMAX = 2.7
HEAT_GAIN = 1.06  # correction to the shades
blocks = np.array(heat_blocks, dtype=float)
matrix = np.repeat(blocks[:, 1:], blocks[:, 0].astype(int), axis=0) * HEAT_GAIN
HL, HR, HT, HB = 463.5, 799.3, 120, 1103
hx = ax_px(HL, HT, HR, HB)
hx.imshow(matrix, aspect="auto", cmap=cmap, vmin=-VMAX, vmax=VMAX, interpolation="nearest")
hx.axis("off")

# group bar
gx = ax_px(HL, 99.7, HR, 115)
for i, c in enumerate(("#ff0000", "#00cc00", "#0000ff")):
    gx.add_patch(Rectangle((i, 0), 1, 1, fc=c, ec="none"))
gx.set_xlim(0, 3)
gx.set_ylim(0, 1)
gx.axis("off")

# column dendrogram
def col_segs(node, segs):
    if isinstance(node, int):
        return node + 0.5, 0.0
    h, l, r = node
    xl, hl = col_segs(l, segs)
    xr, hr = col_segs(r, segs)
    segs += [[(xl, hl), (xl, h)], [(xl, h), (xr, h)], [(xr, h), (xr, hr)]]
    return (xl + xr) / 2, h

segs = []
col_segs(col_tree, segs)
tx = ax_px(HL, 1.3, HR, 98.3)
tx.add_collection(LineCollection(segs, colors="#222222", linewidths=1.3))
tx.set_xlim(0, 9)
tx.set_ylim(0, 97)
tx.axis("off")

# row dendrogram
def row_group(start, n, h, segs):
    if n == 1:
        return start + 0.5
    k = n // 2
    a = row_group(start, k, h * 0.6, segs)
    b = row_group(start + k, n - k, h * 0.6, segs)
    ha = h * 0.6 if k > 1 else 0
    hb = h * 0.6 if n - k > 1 else 0
    segs += [[(ha, a), (h, a)], [(h, a), (h, b)], [(h, b), (hb, b)]]
    return (a + b) / 2

def row_segs(node, start, segs):
    if len(node) == 2:
        n, h = node
        return row_group(start, n, h, segs), h, start + n
    h, l, r = node
    yl, hl, s1 = row_segs(l, start, segs)
    yr, hr, s2 = row_segs(r, s1, segs)
    segs += [[(hl, yl), (h, yl)], [(h, yl), (h, yr)], [(h, yr), (hr, yr)]]
    return (yl + yr) / 2, h, s2

segs = []
_, _, nrows = row_segs(row_tree, 0, segs)
lx = ax_px(HL - 40, HT, HL, HB)
lx.add_collection(LineCollection(segs, colors="#222222", linewidths=1.1))
lx.set_xlim(40, 0)
lx.set_ylim(nrows, 0)
lx.axis("off")

# colour bar
cb_ax = ax_px(825, 124.3, 842.7, 401)
sm = plt.cm.ScalarMappable(cmap=cmap, norm=plt.Normalize(-VMAX, VMAX))
cb = fig.colorbar(sm, cax=cb_ax)
cb_ax.set_ylim(-2.58, 2.64)
cb.set_ticks([-2, -1, 0, 1, 2], labels=["-2", "-1", "0", "1", "2"])
cb.outline.set_visible(False)
cb_ax.tick_params(length=0, labelsize=19, pad=5)

# group legend
for (top, bot, c, s) in ((450, 475, "#ff0000", heat_groups[0]), (475, 500.7, "#00cc00", heat_groups[1]),
                         (500.7, 525.7, "#0000ff", heat_groups[2])):
    ov.add_patch(Rectangle((825.7, top), 17.3, bot - top, fc=c, ec="none"))
    ov.text(846, (top + bot) / 2 + 1, s, fontsize=20, va="center", ha="left")

fig.savefig("out.png", dpi=100)
